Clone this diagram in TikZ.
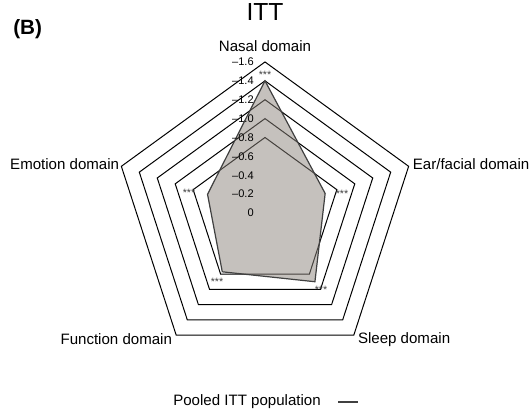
\documentclass[tikz,border=0pt]{standalone}
\usepackage{fontspec}
\setmainfont{Liberation Sans}
\usepackage{tikz}
\usetikzlibrary{positioning,calc}
\definecolor{areagray}{RGB}{139,131,123}
\definecolor{edgegray}{RGB}{64,64,64}

\begin{document}
\begin{tikzpicture}[x=70.8pt,y=70.8pt,
  ring/.style={black,line width=0.75pt,line join=miter},
  area/.style={fill=areagray,fill opacity=0.5,draw=edgegray,line width=0.9pt,line join=miter},
  axlabel/.style={font=\fontsize{11.3}{13}\selectfont,inner sep=0pt},
  ticklabel/.style={font=\fontsize{8.3}{10}\selectfont,inner sep=0pt,anchor=east},
  sig/.style={font=\fontsize{8}{9}\selectfont,text=edgegray,inner sep=0pt,yshift=-1.5pt}]
\useasboundingbox (-198.75pt,-150.75pt) rectangle (200.25pt,159.75pt);

% Grid rings
\foreach \r in {0.8,1.0,1.2,1.4,1.6}
  \draw[ring] (90:\r) -- (18:\r) -- (-54:\r) -- (-126:\r) -- (162:\r) -- cycle;

% Pooled ITT population
\draw[area] (90:1.40) -- (18:0.67) -- (-54:0.90) -- (-126:0.77) -- (162:0.64) -- cycle;

% Radial scale
\foreach \v/\t [count=\i] in {0/0,0.2/–0.2,0.4/–0.4,0.6/–0.6,0.8/–0.8,1.0/–1.0,1.2/–1.2,1.4/–1.4,1.6/–1.6}
  \node[ticklabel] (tick\i) at ([xshift=-8.25pt]0,\v) {\t};

% Domain labels
\node[axlabel,anchor=base] (nasal) at ([yshift=7.5pt]90:1.6) {Nasal domain};
\node[axlabel,anchor=west] (ear) at ([xshift=3pt,yshift=2pt]18:1.6) {Ear/facial domain};
\node[axlabel,anchor=west] (sleep) at ([xshift=3pt,yshift=-3pt]-54:1.6) {Sleep domain};
\node[axlabel,anchor=east] (function) at ([xshift=-3pt,yshift=-3pt]-126:1.6) {Function domain};
\node[axlabel,anchor=east] (emotion) at ([xshift=-1.5pt,yshift=2pt]162:1.6) {Emotion domain};

% Significance marks
\node[sig] (sig1) at (0,1.483) {***};
\node[sig] (sig2) at (0.816,0.222) {***};
\node[sig] (sig3) at (0.593,-0.794) {***};
\node[sig] (sig4) at (-0.508,-0.710) {***};
\node[sig] (sig5) at (-0.805,0.233) {***};

% Title, panel and legend
\node[font=\fontsize{18.5}{22}\selectfont,inner sep=0pt] (title) at (0pt,150.75pt) {ITT};
\node[font=\bfseries\fontsize{15.5}{18}\selectfont,anchor=west,inner sep=0pt] (panel) at (-189pt,138pt) {(B)};
\node[axlabel] (legend) at (-13.5pt,-141.75pt) {Pooled ITT population};
\draw[edgegray,line width=2pt] ([xshift=13pt]legend.east) -- ++(15pt,0);
\end{tikzpicture}
\end{document}
